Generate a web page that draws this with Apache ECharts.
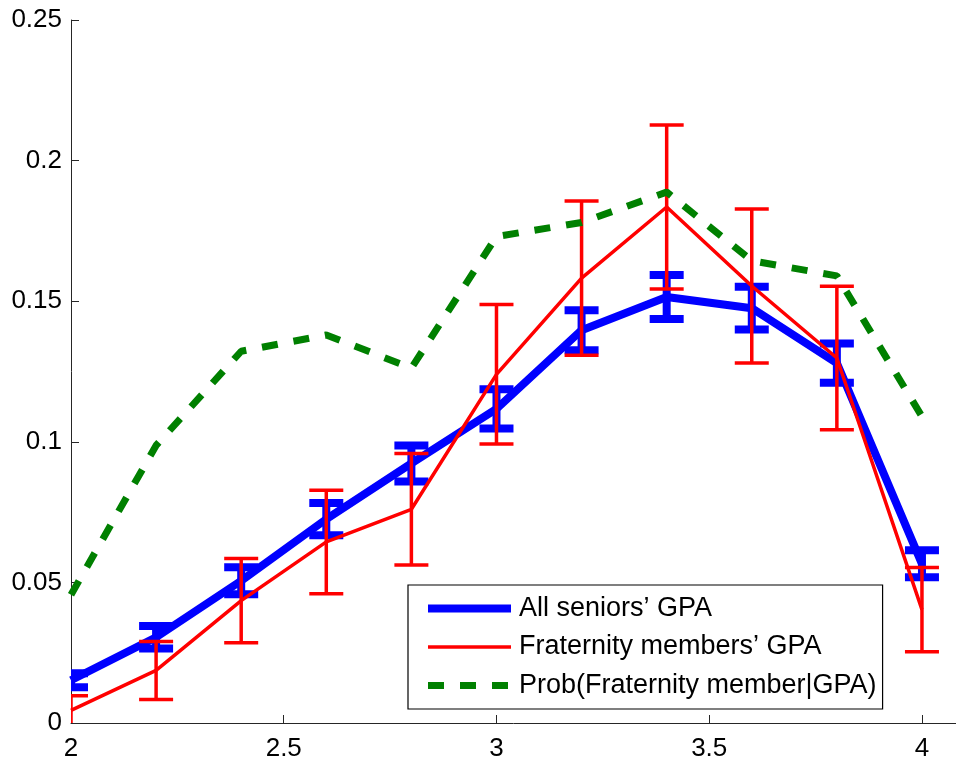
<!DOCTYPE html>
<html>
<head>
<meta charset="utf-8">
<script src="https://cdn.jsdelivr.net/npm/echarts@6/dist/echarts.min.js"></script>
<style>
html,body{margin:0;padding:0;background:#fff;}
#chart{width:956px;height:762px;}
</style>
</head>
<body>
<div id="chart"></div>
<script>
const xVals = [2.0, 2.2, 2.4, 2.6, 2.8, 3.0, 3.2, 3.4, 3.6, 3.8, 4.0];
const allMean = [0.0152, 0.0305, 0.0506, 0.0725, 0.0923, 0.1117, 0.1397, 0.1515, 0.1475, 0.1280, 0.0566];
const allErr  = [0.0025, 0.0040, 0.0048, 0.0057, 0.0064, 0.0070, 0.0071, 0.0078, 0.0076, 0.0070, 0.0048];
const fratMean = [0.0045, 0.0187, 0.0435, 0.0644, 0.0760, 0.1240, 0.1582, 0.1835, 0.1554, 0.1298, 0.0403];
const fratErr  = [0.0052, 0.0103, 0.0150, 0.0184, 0.0198, 0.0248, 0.0274, 0.0292, 0.0274, 0.0255, 0.0150];
const probVals = [0.0456, 0.0987, 0.1322, 0.1380, 0.1262, 0.1730, 0.1780, 0.1888, 0.1644, 0.1590, 0.1090];
const xTickLabels = [2, 2.5, 3, 3.5, 4];
const yTickLabels = [0, 0.05, 0.1, 0.15, 0.2, 0.25];
const seriesNames = ['All seniors\u2019 GPA', 'Fraternity members\u2019 GPA', 'Prob(Fraternity member|GPA)'];

const FONT = 'Liberation Sans, Arial, Helvetica, sans-serif';
const BLUE = '#0000ff', RED = '#ff0000', GREEN = '#008000';
const W_BLUE = 8, W_RED = 3.5, W_GREEN = 7;

function errRender(color, width, capW) {
  return function (params, api) {
    const x = api.value(0);
    const pLo = api.coord([x, api.value(1)]);
    const pHi = api.coord([x, api.value(2)]);
    const h = capW / 2;
    const style = { stroke: color, lineWidth: width, fill: null };
    return {
      type: 'group',
      children: [
        { type: 'line', shape: { x1: pLo[0], y1: pLo[1], x2: pHi[0], y2: pHi[1] }, style: style },
        { type: 'line', shape: { x1: pLo[0] - h, y1: pLo[1], x2: pLo[0] + h, y2: pLo[1] }, style: style },
        { type: 'line', shape: { x1: pHi[0] - h, y1: pHi[1], x2: pHi[0] + h, y2: pHi[1] }, style: style }
      ]
    };
  };
}

const pair = (xs, ys) => xs.map((x, i) => [x, ys[i]]);
const errData = (xs, m, e) => xs.map((x, i) => [x, m[i] - e[i], m[i] + e[i]]);

const chart = echarts.init(document.getElementById('chart'));
chart.setOption({
  animation: false,
  backgroundColor: '#fff',
  grid: { left: 71, right: 0, top: 20, bottom: 35 },
  xAxis: {
    type: 'value', min: 2, max: 4.08, interval: 0.5,
    axisLine: { show: true, lineStyle: { color: '#262626', width: 1 } },
    axisTick: { show: true, inside: true, length: 8, customValues: xTickLabels, lineStyle: { color: '#262626' } },
    axisLabel: { customValues: xTickLabels, color: '#000', fontSize: 26, fontFamily: FONT, margin: 13 },
    splitLine: { show: false }
  },
  yAxis: {
    type: 'value', min: 0, max: 0.25, interval: 0.05,
    axisLine: { show: true, lineStyle: { color: '#262626', width: 1 } },
    axisTick: { show: true, inside: true, length: 8, customValues: yTickLabels, lineStyle: { color: '#262626' } },
    axisLabel: { customValues: yTickLabels, color: '#000', fontSize: 26, fontFamily: FONT, margin: 9, padding: [4, 0, 0, 0] },
    splitLine: { show: false }
  },
  legend: {
    data: [
      { name: seriesNames[0], lineStyle: { width: W_BLUE }, itemStyle: { opacity: 0 } },
      { name: seriesNames[1], lineStyle: { width: W_RED }, itemStyle: { opacity: 0 } },
      { name: seriesNames[2], lineStyle: { width: W_GREEN }, itemStyle: { opacity: 0 } }
    ],
    orient: 'vertical',
    left: 408, top: 585,
    padding: [10, 6, 10, 16],
    itemWidth: 83, itemHeight: 14, itemGap: 11.5,
    backgroundColor: '#fff',
    borderColor: '#000', borderWidth: 1.2,
    textStyle: { fontSize: 27, lineHeight: 27, color: '#000', fontFamily: FONT, padding: [0, 0, 0, 3] },
    selectedMode: false
  },
  series: [
    {
      name: seriesNames[0], type: 'line', data: pair(xVals, allMean),
      symbol: 'none', lineStyle: { color: BLUE, width: W_BLUE }, itemStyle: { color: BLUE }, z: 2
    },
    {
      name: 'allErr', type: 'custom', data: errData(xVals, allMean, allErr),
      renderItem: errRender(BLUE, W_BLUE, 34), clip: true, z: 2
    },
    {
      name: seriesNames[1], type: 'line', data: pair(xVals, fratMean),
      symbol: 'none', lineStyle: { color: RED, width: W_RED }, itemStyle: { color: RED }, z: 3
    },
    {
      name: 'fratErr', type: 'custom', data: errData(xVals, fratMean, fratErr),
      renderItem: errRender(RED, W_RED, 34), clip: true, z: 3
    },
    {
      name: seriesNames[2], type: 'line', data: pair(xVals, probVals),
      symbol: 'none', lineStyle: { color: GREEN, width: W_GREEN, type: [16, 16], cap: 'butt' },
      itemStyle: { color: GREEN }, z: 4
    }
  ]
});
</script>
</body>
</html>
